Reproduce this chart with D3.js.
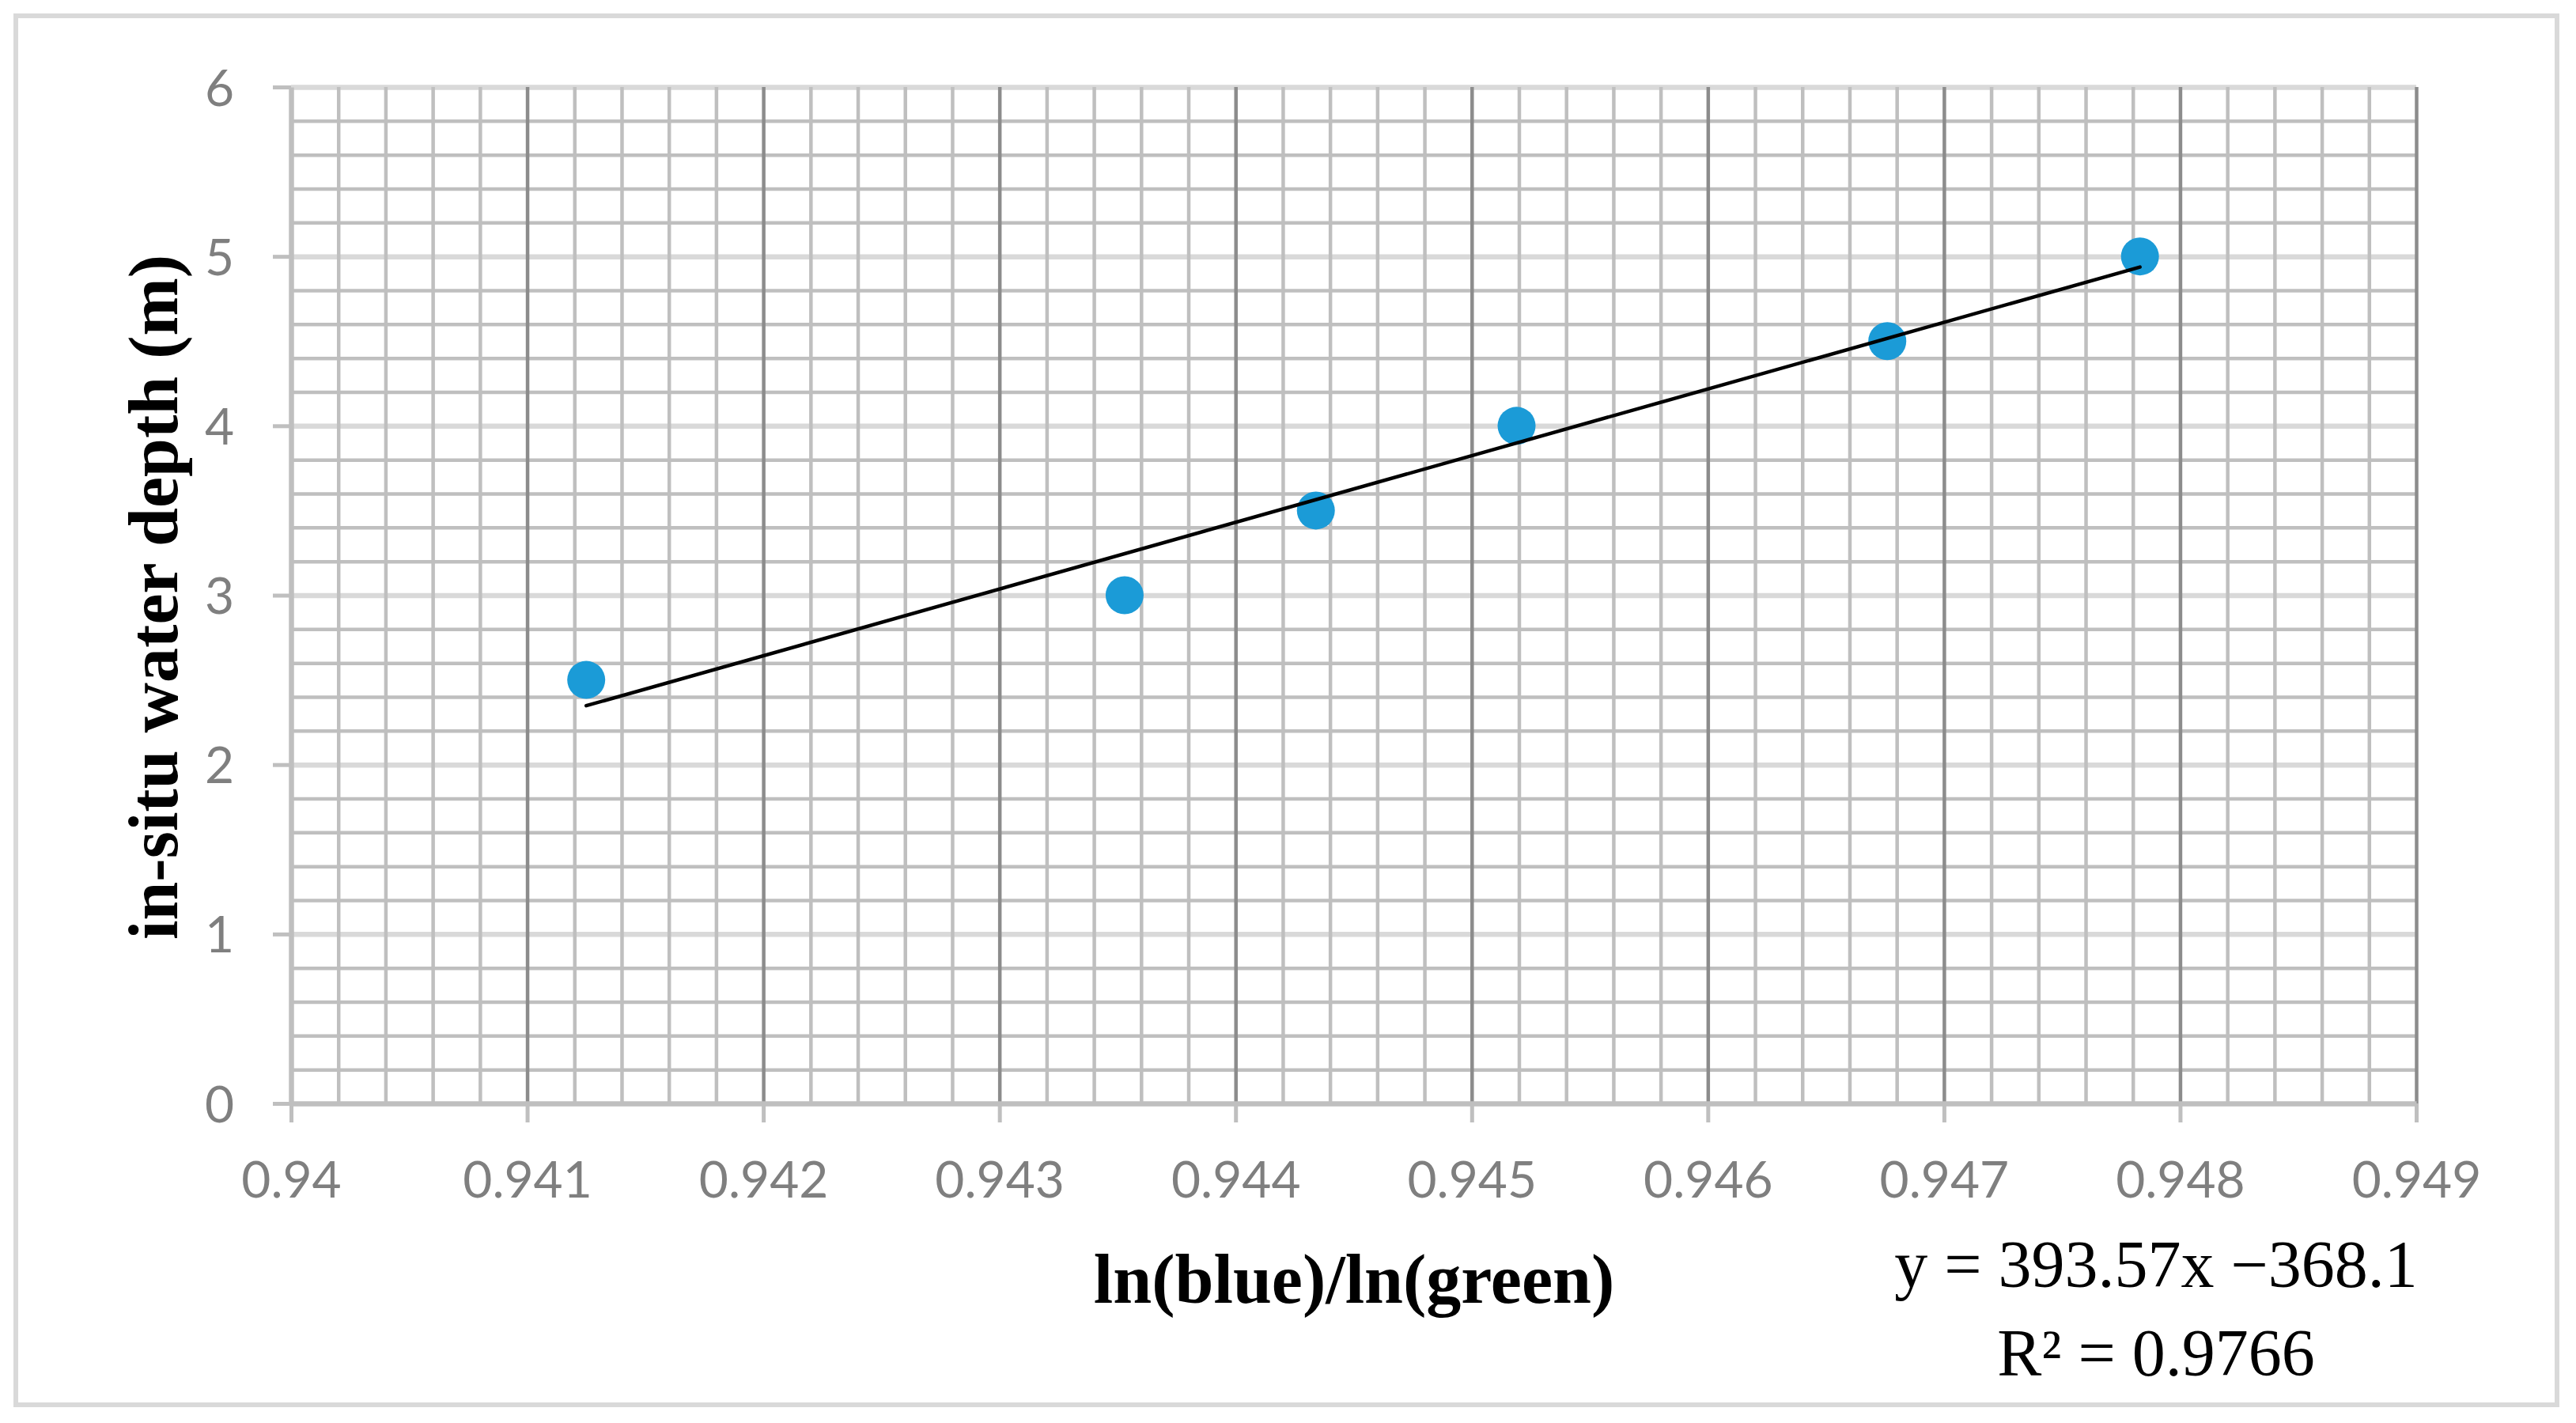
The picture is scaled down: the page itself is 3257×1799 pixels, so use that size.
<!DOCTYPE html>
<html>
<head>
<meta charset="utf-8">
<script src="https://cdn.jsdelivr.net/npm/d3@7"></script>
<style>
  html, body { margin: 0; padding: 0; background: #ffffff; }
  svg { display: block; }
</style>
</head>
<body>
<script>
// ---- Data ----
const ratioValues = [0.94125, 0.94353, 0.94434, 0.94519, 0.94676, 0.94783]; // ln(blue)/ln(green)
const depthValues = [2.5, 3.0, 3.5, 4.0, 4.5, 5.0];                          // in-situ water depth (m)
const xTickValues = [0.94, 0.941, 0.942, 0.943, 0.944, 0.945, 0.946, 0.947, 0.948, 0.949];
const xTickLabels = ["0.94", "0.941", "0.942", "0.943", "0.944", "0.945", "0.946", "0.947", "0.948", "0.949"];
const yTickValues = [0, 1, 2, 3, 4, 5, 6];
const yTickLabels = ["0", "1", "2", "3", "4", "5", "6"];
const trendSlope = 393.57;
const trendIntercept = -368.1;
const equationLines = ["y = 393.57x \u2212368.1", "R\u00B2 = 0.9766"];
const xTitle = "ln(blue)/ln(green)";
const yTitle = "in-situ water depth (m)";

(function () {
// ---- Layout ----
const W = 3257, H = 1799;
const pLeft = 368, pRight = 3055, pTop = 110, pBottom = 1395;

const svg = d3.select("body").append("svg").attr("width", W).attr("height", H);
svg.append("rect").attr("width", W).attr("height", H).attr("fill", "#ffffff");
svg.append("rect").attr("x", 20).attr("y", 20).attr("width", 3213).attr("height", 1756)
  .attr("fill", "none").attr("stroke", "#d9d9d9").attr("stroke-width", 6);

const x = d3.scaleLinear().domain([0.94, 0.949]).range([pLeft, pRight]);
const y = d3.scaleLinear().domain([0, 6]).range([pBottom, pTop]);

const xMinor = d3.range(0, 46).map(i => 0.94 + i * 0.0002).filter(v => Math.abs(((v - 0.94) / 0.001) - Math.round((v - 0.94) / 0.001)) > 1e-6);
const yMinor = d3.range(0, 31).map(i => i * 0.2).filter(v => Math.abs(v - Math.round(v)) > 1e-6);

function styleGrid(g, color, width) {
  g.select(".domain").remove();
  g.selectAll(".tick text").remove();
  g.selectAll(".tick line").attr("stroke", color).attr("stroke-width", width);
}

// Major horizontal gridlines (light)
svg.append("g").attr("transform", `translate(${pLeft},0)`)
  .call(d3.axisLeft(y).tickValues(yTickValues.filter(v => v > 0)).tickSize(-(pRight - pLeft)).tickFormat(""))
  .call(g => styleGrid(g, "#d9d9d9", 6.5));

// Minor horizontal gridlines
svg.append("g").attr("transform", `translate(${pLeft},0)`)
  .call(d3.axisLeft(y).tickValues(yMinor).tickSize(-(pRight - pLeft)).tickFormat(""))
  .call(g => styleGrid(g, "#bfbfbf", 4.5));

// Minor vertical gridlines
svg.append("g").attr("transform", `translate(0,${pBottom})`)
  .call(d3.axisBottom(x).tickValues(xMinor).tickSize(-(pBottom - pTop)).tickFormat(""))
  .call(g => styleGrid(g, "#bfbfbf", 4.5));

// Major vertical gridlines (dark)
svg.append("g").attr("transform", `translate(0,${pBottom})`)
  .call(d3.axisBottom(x).tickValues(xTickValues.slice(1)).tickSize(-(pBottom - pTop)).tickFormat(""))
  .call(g => styleGrid(g, "#8c8c8c", 4.5));

// Axes
const axisFont = "Lato, 'Open Sans', sans-serif";
const xAxis = svg.append("g").attr("transform", `translate(0,${pBottom})`)
  .call(d3.axisBottom(x).tickValues(xTickValues).tickSizeInner(24).tickSizeOuter(0).tickPadding(0)
    .tickFormat((d, i) => xTickLabels[i]));
xAxis.select(".domain").attr("stroke", "#bfbfbf").attr("stroke-width", 6.5);
xAxis.selectAll(".tick line").attr("stroke", "#bfbfbf").attr("stroke-width", 5);
xAxis.selectAll(".tick text").attr("y", 119).attr("dy", null)
  .attr("font-family", axisFont).attr("font-size", 64).attr("fill", "#7f7f7f");

const yAxis = svg.append("g").attr("transform", `translate(${pLeft},0)`)
  .call(d3.axisLeft(y).tickValues(yTickValues).tickSizeInner(23).tickSizeOuter(0).tickPadding(0)
    .tickFormat((d, i) => yTickLabels[i]));
yAxis.select(".domain").attr("stroke", "#bfbfbf").attr("stroke-width", 6.5);
yAxis.selectAll(".tick line").attr("stroke", "#bfbfbf").attr("stroke-width", 5);
yAxis.selectAll(".tick text").attr("x", -72).attr("dy", "0.36em")
  .attr("font-family", axisFont).attr("font-size", 64).attr("fill", "#7f7f7f");

// Points
const pts = ratioValues.map((v, i) => ({ x: v, y: depthValues[i] }));
svg.append("g").selectAll("circle").data(pts).join("circle")
  .attr("cx", d => x(d.x)).attr("cy", d => y(d.y)).attr("r", 24).attr("fill", "#1b9bd7");

// Trendline
const xExt = d3.extent(ratioValues);
const trend = xExt.map(v => ({ x: v, y: trendSlope * v + trendIntercept }));
svg.append("path").datum(trend)
  .attr("d", d3.line().x(d => x(d.x)).y(d => y(d.y)))
  .attr("fill", "none").attr("stroke", "#000").attr("stroke-width", 4.5).attr("stroke-linecap", "round");

// Titles
const serif = "'Liberation Serif', 'Times New Roman', serif";
svg.append("text").attr("x", 1712).attr("y", 1647).attr("text-anchor", "middle")
  .attr("font-family", serif).attr("font-weight", "bold").attr("font-size", 88).attr("fill", "#000")
  .text(xTitle);
svg.append("text").attr("transform", "translate(224,755) rotate(-90)").attr("text-anchor", "middle")
  .attr("font-family", serif).attr("font-weight", "bold").attr("font-size", 88).attr("fill", "#000")
  .text(yTitle);

// Equation
svg.append("g").selectAll("text").data(equationLines).join("text")
  .attr("x", 2726).attr("y", (d, i) => 1627 + i * 112).attr("text-anchor", "middle")
  .attr("font-family", serif).attr("font-size", 84).attr("fill", "#000")
  .text(d => d);
})();
</script>
</body>
</html>
